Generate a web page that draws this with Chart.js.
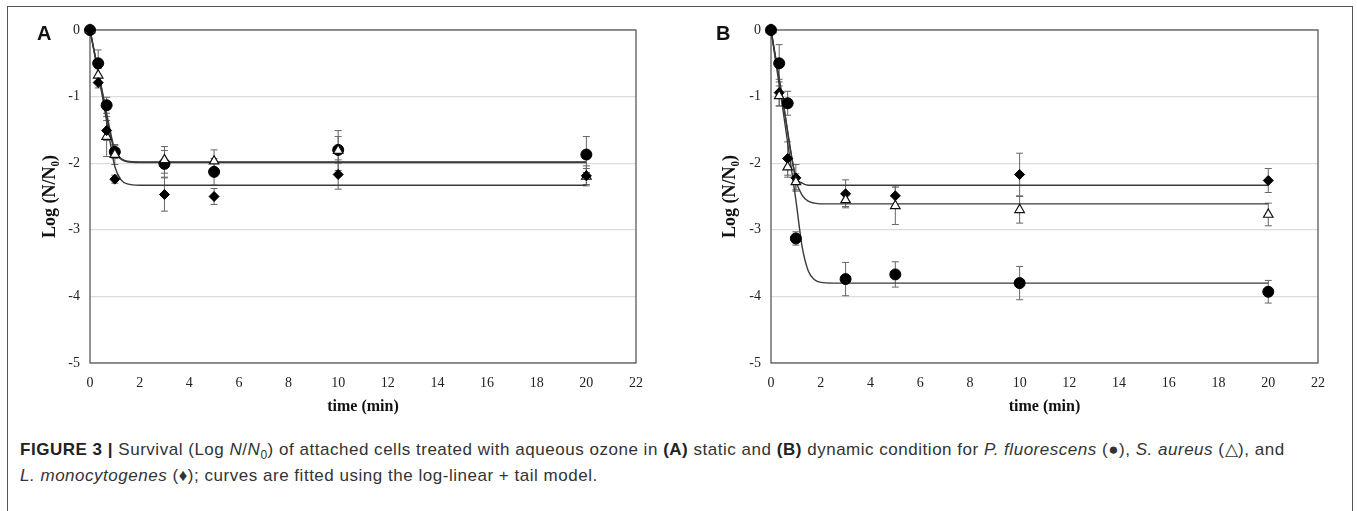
<!DOCTYPE html>
<html>
<head>
<meta charset="utf-8">
<script src="https://cdn.jsdelivr.net/npm/chart.js@4"></script>
<style>
  html, body { margin: 0; padding: 0; background: #fff; }
  body { width: 1357px; height: 511px; position: relative; overflow: hidden; }
  .frame { position: absolute; left: 7px; top: 6px; width: 1346px; height: 520px; border: 1px solid #555; box-sizing: border-box; }
  .panel { position: absolute; top: 0; height: 420px; }
  #wrapA { left: 0; width: 680px; }
  #wrapB { left: 680px; width: 677px; }
  .tag { position: absolute; top: 22px; font: bold 20px "Liberation Sans", Arial, sans-serif; color: #111; }
  .caption { position: absolute; left: 20px; top: 437px; width: 1325px; font: 17px "Liberation Sans", Arial, sans-serif; letter-spacing: 0.52px; color: #333; line-height: 26px; }
  .caption b { color: #222; }
  .caption sub { font-size: 12px; vertical-align: baseline; position: relative; top: 4px; line-height: 0; }
</style>
</head>
<body>
<div class="frame"></div>
<div class="panel" id="wrapA"><canvas id="chartA"></canvas></div>
<div class="panel" id="wrapB"><canvas id="chartB"></canvas></div>
<div class="tag" style="left:37px">A</div>
<div class="tag" style="left:716px">B</div>
<div class="caption"><b>FIGURE 3 |</b> Survival (Log <i>N</i>/<i>N</i><sub>0</sub>) of attached cells treated with aqueous ozone in <b>(A)</b> static and <b>(B)</b> dynamic condition for <i>P. fluorescens</i> (●), <i>S. aureus</i> (△), and<br><i>L. monocytogenes</i> (♦); curves are fitted using the log-linear + tail model.</div>

<script>
// ── sampling times (min) ──
const times = [0, 0.33, 0.67, 1, 3, 5, 10, 20];

// ── panel A: static ──
const aFluo = [0, -0.50, -1.13, -1.83, -2.01, -2.13, -1.80, -1.87];
const aFluoErr = [0, 0.20, 0.12, 0.10, 0.20, 0.20, 0.20, 0.27];
const aAureus = [0, -0.68, -1.60, -1.87, -1.95, -1.97, -1.81, -2.20];
const aAureusErr = [0, 0.10, 0.30, 0.15, 0.20, 0.17, 0.30, 0.12];
const aMono = [0, -0.79, -1.51, -2.24, -2.47, -2.50, -2.17, -2.19];
const aMonoErr = [0, 0.08, 0.15, 0.06, 0.25, 0.12, 0.22, 0.15];

// ── panel B: dynamic ──
const bFluo = [0, -0.50, -1.10, -3.13, -3.74, -3.67, -3.80, -3.93];
const bFluoErr = [0, 0.28, 0.18, 0.10, 0.25, 0.19, 0.25, 0.17];
const bAureus = [0, -0.99, -2.06, -2.28, -2.55, -2.64, -2.70, -2.77];
const bAureusErr = [0, 0.15, 0.15, 0.12, 0.10, 0.28, 0.20, 0.17];
const bMono = [0, -0.94, -1.93, -2.22, -2.46, -2.49, -2.17, -2.26];
const bMonoErr = [0, 0.20, 0.25, 0.20, 0.21, 0.15, 0.32, 0.18];

// ── fitted curves ──
const curveT = [0, 0.5, 0.75, 1, 1.25, 1.5, 2, 20];
const aFluoFit = [0, -0.93, -1.40, -1.80, -1.93, -1.97, -1.98, -1.98];
const aAureusFit = [0, -0.95, -1.45, -1.83, -1.94, -1.98, -1.99, -1.99];
const aMonoFit = [0, -1.00, -1.55, -2.05, -2.25, -2.31, -2.33, -2.33];

const curveTB = [0, 0.5, 1, 1.25, 1.5, 1.75, 2, 2.5, 20];
const bFluoFit = [0, -1.25, -2.55, -3.25, -3.62, -3.75, -3.79, -3.80, -3.80];
const bAureusFit = [0, -1.12, -2.25, -2.48, -2.57, -2.60, -2.61, -2.61, -2.61];
const bMonoFit = [0, -1.12, -2.20, -2.30, -2.33, -2.33, -2.33, -2.33, -2.33];

const yTicks = [0, -1, -2, -3, -4, -5];

function pts(xs, ys) { return xs.map((x, i) => ({ x, y: ys[i] })); }

function fitSet(xs, ys) {
  return {
    data: pts(xs, ys), showLine: true, pointRadius: 0,
    borderColor: '#3a3a3a', borderWidth: 1.4,
    cubicInterpolationMode: 'monotone', order: 5
  };
}

function markSet(ys, errs, style) {
  const base = { data: pts(times, ys), errors: errs, showLine: false, order: 1, clip: false };
  if (style === 'circle') return { ...base, pointStyle: 'circle', pointRadius: 5.5, backgroundColor: '#000', borderColor: '#000', borderWidth: 1 };
  if (style === 'triangle') return { ...base, pointStyle: 'triangle', pointRadius: 5.5, backgroundColor: '#fff', borderColor: '#111', borderWidth: 1.2 };
  return { ...base, pointStyle: 'rectRot', pointRadius: 5, backgroundColor: '#000', borderColor: '#000', borderWidth: 1 };
}

// error bars + plot frame
const errorBars = {
  id: 'errorBars',
  beforeDatasetsDraw(chart) {
    const { ctx, chartArea: a, scales: { x, y } } = chart;
    ctx.save();
    ctx.strokeStyle = '#5a5a5a';
    ctx.lineWidth = 1.3;
    ctx.strokeRect(a.left, a.top, a.right - a.left, a.bottom - a.top);
    ctx.strokeStyle = '#666';
    ctx.lineWidth = 1;
    chart.data.datasets.forEach(ds => {
      if (!ds.errors) return;
      ds.data.forEach((p, i) => {
        const e = ds.errors[i];
        if (!e) return;
        const px = x.getPixelForValue(p.x);
        const y1 = y.getPixelForValue(p.y + e);
        const y2 = y.getPixelForValue(p.y - e);
        ctx.beginPath();
        ctx.moveTo(px, y1); ctx.lineTo(px, y2);
        ctx.moveTo(px - 3.5, y1); ctx.lineTo(px + 3.5, y1);
        ctx.moveTo(px - 3.5, y2); ctx.lineTo(px + 3.5, y2);
        ctx.stroke();
      });
    });
    ctx.restore();
  }
};

function makeChart(id, sets, padLeft, axisW, padRight) {
  const serif = '"Liberation Serif", "DejaVu Serif", serif';
  return new Chart(document.getElementById(id), {
    type: 'scatter',
    data: { datasets: sets },
    plugins: [errorBars],
    options: {
      responsive: true,
      maintainAspectRatio: false,
      animation: false,
      layout: { padding: { left: padLeft, right: padRight, top: 30, bottom: 0 } },
      plugins: { legend: { display: false }, tooltip: { enabled: false } },
      scales: {
        x: {
          type: 'linear', min: 0, max: 22,
          afterFit: s => { s.height = 57; },
          ticks: { stepSize: 2, color: '#222', padding: 12, font: { family: serif, size: 14 } },
          grid: { display: false, drawTicks: false },
          border: { display: false },
          title: { display: true, text: 'time (min)', color: '#111', padding: { top: 0 }, font: { family: serif, size: 16, weight: 'bold' } }
        },
        y: {
          type: 'linear', min: -5, max: 0,
          afterFit: s => { s.width = axisW; },
          afterBuildTicks: s => { s.ticks = yTicks.map(v => ({ value: v })); },
          ticks: { color: '#222', padding: 10, font: { family: serif, size: 14 } },
          grid: { color: '#dcdcdc', lineWidth: 1.3, drawTicks: false },
          border: { display: false },
          title: { display: true, text: 'Log (N/N₀)', color: '#111', padding: { bottom: 0 }, font: { family: serif, size: 18, weight: 'bold' } }
        }
      }
    }
  });
}

makeChart('chartA', [
  fitSet(curveT, aFluoFit), fitSet(curveT, aAureusFit), fitSet(curveT, aMonoFit),
  markSet(aMono, aMonoErr, 'diamond'),
  markSet(aAureus, aAureusErr, 'triangle'),
  markSet(aFluo, aFluoErr, 'circle')
], 36, 54, 44);

makeChart('chartB', [
  fitSet(curveTB, bFluoFit), fitSet(curveTB, bAureusFit), fitSet(curveTB, bMonoFit),
  markSet(bFluo, bFluoErr, 'circle'),
  markSet(bAureus, bAureusErr, 'triangle'),
  markSet(bMono, bMonoErr, 'diamond')
], 36, 55, 39);
</script>
</body>
</html>
